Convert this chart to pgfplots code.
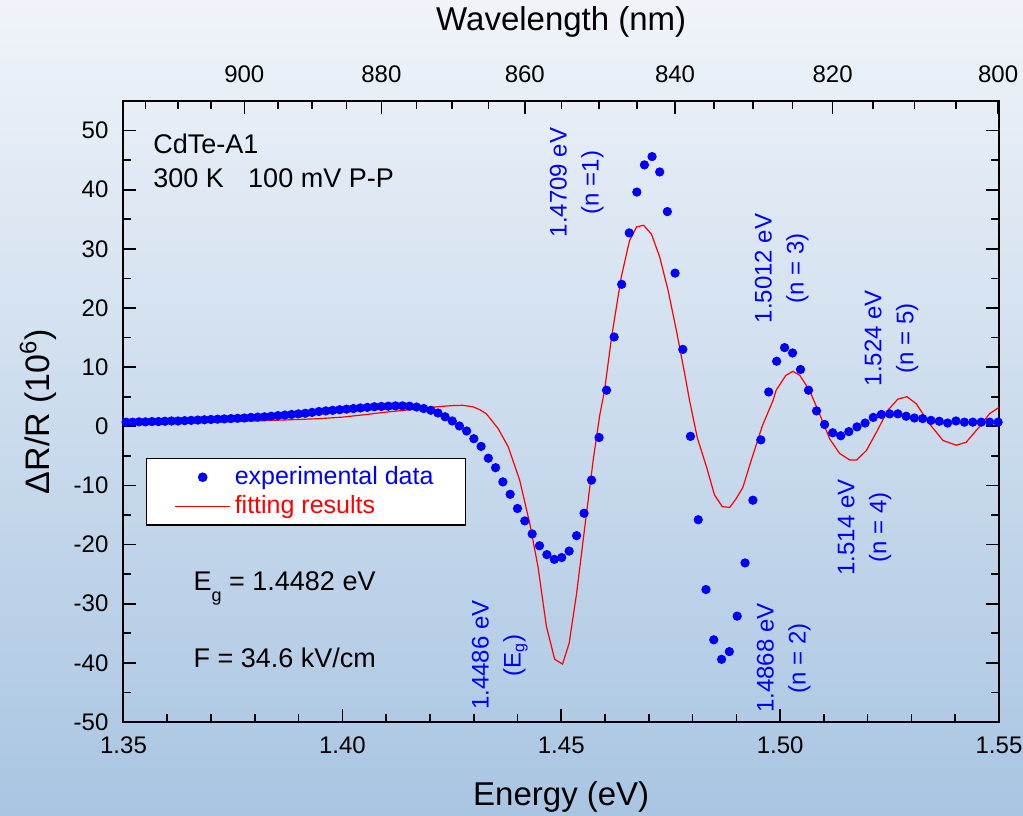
\documentclass[border=0pt]{standalone}
\usepackage{pgfplots}
\pgfplotsset{compat=1.18}
\usepackage{fontspec}
\setmainfont{Liberation Sans}
\definecolor{bgtop}{RGB}{240,244,249}
\definecolor{bgbot}{RGB}{169,197,226}
\pgfplotsset{
  dotlegend/.style={legend image code/.code={\path (0pt,0pt) (27.5pt,0pt); \draw[##1] plot coordinates {(13.75pt,0pt)};}},
  linelegend/.style={legend image code/.code={\draw[##1] (0pt,0pt) -- (27.5pt,0pt);}},
}
\begin{document}
\begin{tikzpicture}
\shade[top color=bgtop, bottom color=bgbot] (-61.75pt,-46.5pt) rectangle (449.75pt,361pt);
\begin{axis}[
  at={(0,0)}, anchor=south west,
  scale only axis, width=437.75pt, height=310.5pt,
  xmin=1.35, xmax=1.55, ymin=-50, ymax=55,
  axis line style={line width=1pt},
  xtick={1.35,1.40,1.45,1.50,1.55},
  xticklabels={1.35,1.40,1.45,1.50,1.55},
  minor x tick num=4,
  ytick={-50,-40,-30,-20,-10,0,10,20,30,40,50},
  yticklabels={-50,-40,-30,-20,-10,0,10,20,30,40,50},
  minor y tick num=1,
  xtick pos=left, ytick pos=both,
  tick align=inside,
  major tick length=6.5pt, minor tick length=4pt,
  every tick/.style={black, line width=0.8pt},
  tick label style={font=\fontsize{12}{14}\selectfont},
  xticklabel style={yshift=-4pt},
  yticklabel style={xshift=-4pt},
  xlabel={Energy (eV)},
  xlabel style={at={(axis description cs:0.5,-0.1208)}, anchor=center, font=\fontsize{16.5}{20}\selectfont},
  ylabel={ΔR/R (10\textsuperscript{6})},
  ylabel style={at={(axis description cs:-0.0977,0.5)}, anchor=center, font=\fontsize{17}{20}\selectfont},
  legend style={at={(0.0257,0.425)}, anchor=north west, draw=black, line width=0.6pt, fill=white,
    font=\fontsize{12.5}{15}\selectfont, inner xsep=14pt, inner ysep=2pt,
    nodes={inner sep=2pt}},
  legend cell align=left,
]
\addplot[only marks, mark=*, mark size=2.1pt, blue, mark options={draw=blue, fill=blue}, dotlegend]
coordinates {
(1.54980,0.7) (1.54787,0.7) (1.54594,0.7) (1.54401,0.7) (1.54209,0.7)
(1.54017,0.9) (1.53826,0.55) (1.53636,0.85) (1.53446,1.0) (1.53256,1.3)
(1.53067,1.4) (1.52878,1.7) (1.52690,2.1) (1.52502,2.1) (1.52314,2.0)
(1.52127,1.5) (1.51941,0.55) (1.51755,-0.1) (1.51570,-0.9) (1.51385,-1.6)
(1.51200,-1.1) (1.51016,0.3) (1.50832,2.6) (1.50649,6.1) (1.50466,9.6)
(1.50284,12.4) (1.50102,13.3) (1.49920,11.0) (1.49739,5.8) (1.49559,-2.3)
(1.49378,-12.5) (1.49199,-23.1) (1.49019,-32.1) (1.48840,-38.1) (1.48662,-39.4)
(1.48484,-36.1) (1.48306,-27.6) (1.48129,-15.8) (1.47952,-1.7) (1.47776,13.0)
(1.47600,25.9) (1.47424,36.3) (1.47249,43.0) (1.47075,45.6) (1.46900,44.2)
(1.46727,39.6) (1.46553,32.7) (1.46380,24.0) (1.46208,15.1) (1.46035,6.1)
(1.45864,-1.9) (1.45692,-9.1) (1.45521,-14.7) (1.45350,-18.5) (1.45180,-21.1)
(1.45010,-22.2) (1.44841,-22.5) (1.44672,-21.7) (1.44503,-20.2) (1.44335,-18.2)
(1.44167,-16.0) (1.44000,-13.9) (1.43833,-11.5) (1.43666,-9.4) (1.43500,-7.0)
(1.43334,-5.4) (1.43169,-3.4) (1.43003,-2.1) (1.42839,-0.8) (1.42674,0.05)
(1.42510,0.9) (1.42347,1.6) (1.42183,2.25) (1.42021,2.7) (1.41858,3.0)
(1.41696,3.25) (1.41534,3.4) (1.41373,3.45) (1.41212,3.45) (1.41051,3.4)
(1.40891,3.35) (1.40731,3.3) (1.40571,3.2) (1.40412,3.1) (1.40253,3.0)
(1.40095,2.9) (1.39937,2.8) (1.39779,2.7) (1.39622,2.6) (1.39465,2.5)
(1.39308,2.35) (1.39152,2.2) (1.38996,2.1) (1.38840,2.0) (1.38685,1.9)
(1.38530,1.8) (1.38375,1.7) (1.38221,1.6) (1.38067,1.55) (1.37913,1.5)
(1.37760,1.4) (1.37607,1.35) (1.37455,1.3) (1.37302,1.25) (1.37150,1.2)
(1.36999,1.15) (1.36848,1.1) (1.36697,1.05) (1.36546,1.0) (1.36396,0.95)
(1.36246,0.9) (1.36097,0.9) (1.35947,0.85) (1.35799,0.8) (1.35650,0.8)
(1.35502,0.75) (1.35354,0.75) (1.35207,0.7) (1.35059,0.7)
};
\addlegendentry{\textcolor{blue}{experimental data}}
\addplot[red, line width=0.6pt, linelegend]
coordinates {
(1.3500,0.45) (1.3600,0.55) (1.3700,0.7) (1.3800,0.9) (1.3900,1.15) (1.3949,1.3)
(1.4000,1.55) (1.4050,1.95) (1.4100,2.4) (1.4155,2.8) (1.4177,3.0) (1.4223,3.35)
(1.4253,3.5) (1.4275,3.55) (1.4298,3.3) (1.4314,2.8) (1.4329,2.1) (1.4341,1.0)
(1.4356,-0.4) (1.4379,-3.5) (1.4405,-9.1) (1.4428,-16.4) (1.4447,-23.8)
(1.4466,-33.8) (1.4485,-39.4) (1.4503,-40.2) (1.4518,-36.7) (1.4535,-28.3)
(1.4554,-16.9) (1.4573,-5.7) (1.4588,1.9) (1.4599,6.1) (1.4615,15.1)
(1.4637,25.2) (1.4656,31.4) (1.4672,33.7) (1.4688,34.0) (1.4706,32.5)
(1.4725,28.6) (1.4744,23.0) (1.4763,16.2) (1.4782,8.9) (1.4793,4.4)
(1.4811,-2.0) (1.4832,-6.9) (1.4850,-11.6) (1.4868,-13.6) (1.4885,-13.7)
(1.4900,-12.2) (1.4915,-10.3) (1.4933,-6.0) (1.4959,0.0) (1.4984,4.4)
(1.4991,6.1) (1.5013,8.6) (1.5029,9.3) (1.5045,8.6) (1.5067,6.1)
(1.5090,2.1) (1.5113,-2.1) (1.5136,-4.6) (1.5159,-5.7) (1.5175,-5.7)
(1.5197,-4.1) (1.5220,-1.0) (1.5246,2.7) (1.5269,4.6) (1.5290,5.0)
(1.5311,3.8) (1.5341,0.45) (1.5372,-2.4) (1.5402,-3.2) (1.5425,-2.7)
(1.5455,-0.1) (1.5478,2.1) (1.5500,3.2)
};
\addlegendentry{\textcolor{red}{fitting results}}
% annotations
\node[anchor=base west, inner sep=0pt, font=\fontsize{13.5}{16}\selectfont] at (axis cs:1.35674,46.1) {CdTe-A1};
\node[anchor=base west, inner sep=0pt, font=\fontsize{13.5}{16}\selectfont] at (axis cs:1.35674,40.4) {300 K\hspace{0.9em}100 mV P-P};
\node[anchor=base west, inner sep=0pt, font=\fontsize{13.5}{16}\selectfont] at (axis cs:1.36594,-27.7) {E\raisebox{-5.75pt}{\fontsize{9}{9}\selectfont g} = 1.4482 eV};
\node[anchor=base west, inner sep=0pt, font=\fontsize{13.5}{16}\selectfont] at (axis cs:1.36594,-40.7) {F = 34.6 kV/cm};
\node[blue, rotate=90, align=center, font=\fontsize{12}{16}\selectfont] at (axis cs:1.45354,41.2) {1.4709 eV\\(n =1)};
\node[blue, rotate=90, align=center, font=\fontsize{12}{16}\selectfont] at (axis cs:1.50034,26.7) {1.5012 eV\\(n = 3)};
\node[blue, rotate=90, align=center, font=\fontsize{12}{16}\selectfont] at (axis cs:1.52546,14.9) {1.524 eV\\(n = 5)};
\node[blue, rotate=90, align=center, font=\fontsize{12}{16}\selectfont] at (axis cs:1.51929,-17.1) {1.514 eV\\(n = 4)};
\node[blue, rotate=90, align=center, font=\fontsize{12}{16}\selectfont] at (axis cs:1.50080,-39.2) {1.4868 eV\\(n = 2)};
\node[blue, rotate=90, align=center, font=\fontsize{12}{16}\selectfont] at (axis cs:1.43596,-38.7) {1.4486 eV\\(E\textsubscript{g})};
\end{axis}
\begin{axis}[
  at={(0,0)}, anchor=south west,
  scale only axis, width=437.75pt, height=310.5pt,
  xmin=1.35, xmax=1.55, ymin=-50, ymax=55,
  axis x line*=top, axis y line=none,
  axis line style={line width=1pt},
  tick align=inside,
  xtick={1.37760,1.40891,1.44167,1.47600,1.51200,1.54980},
  xticklabels={900,880,860,840,820,800},
  minor xtick={1.35502,1.36246,1.36999,1.38530,1.39308,1.40095,1.41696,1.42510,1.43334,1.45010,1.45864,1.46727,1.48484,1.49378,1.50284,1.52127,1.53067,1.54017},
  major tick length=6.5pt, minor tick length=4pt,
  every tick/.style={black, line width=0.8pt},
  tick label style={font=\fontsize{12}{14}\selectfont},
  xticklabel style={yshift=5.5pt},
  xlabel={Wavelength (nm)},
  xlabel style={at={(axis description cs:0.5,1.1272)}, anchor=center, font=\fontsize{16.5}{20}\selectfont},
]
\addplot[draw=none] coordinates {(1.40,0)};
\end{axis}
\pgfresetboundingbox
\useasboundingbox (-61.75pt,-46.5pt) rectangle (449.75pt,361pt);
\end{tikzpicture}
\end{document}
